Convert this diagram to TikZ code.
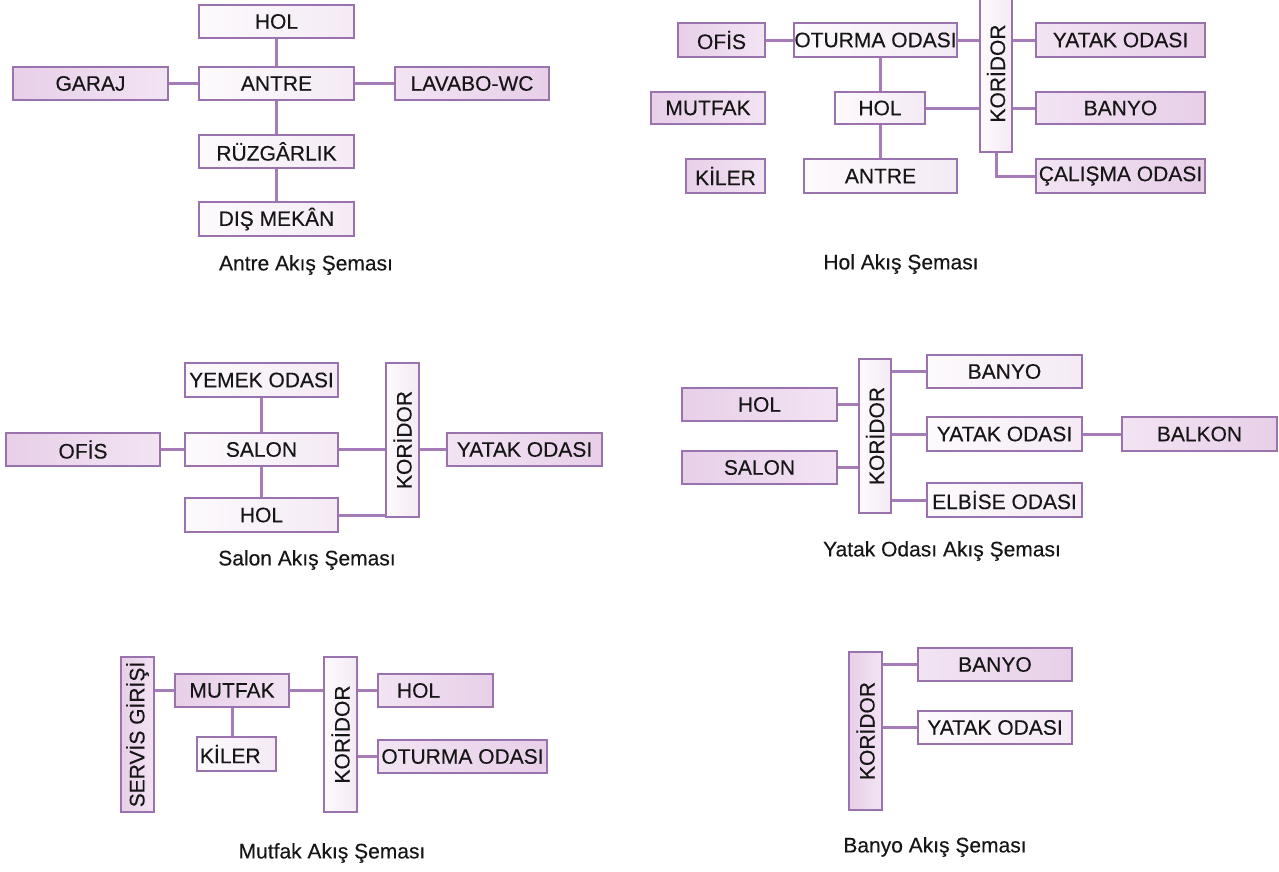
\documentclass[tikz,border=0pt]{standalone}
\usepackage{fontspec}
\setmainfont{Liberation Sans}
\newfontface\rf[FakeBold=0.25]{Liberation Sans}
\definecolor{bd}{HTML}{9A72AD}
\definecolor{ln}{HTML}{A57CB7}
\definecolor{pkL}{HTML}{E7CFE8}
\definecolor{pkR}{HTML}{F2E4F3}
\definecolor{ltL}{HTML}{FDFAFD}
\definecolor{ltR}{HTML}{F4EAF5}
\definecolor{tx}{HTML}{161616}
\tikzset{
  rm/.style={draw=bd, line width=1.6pt, inner sep=0pt, minimum height=33,
    font=\rf\fontsize{21}{25}\selectfont, text=tx},
  pk/.style={rm, left color=pkL, right color=pkR},
  pkr/.style={rm, left color=pkR, right color=pkL},
  lt/.style={rm, left color=ltL, right color=ltR},
  conn/.style={draw=ln, line width=3pt},
  captxt/.style={font=\rf\fontsize{21}{25}\selectfont, text=tx},
  vtext/.style={rotate=90, inner sep=0pt, font=\rf\fontsize{21}{25}\selectfont, text=tx}
}
\begin{document}
\begin{tikzpicture}[x=1pt,y=-1pt]
\useasboundingbox[fill=white] (0,0) rectangle (1279,871);

% ---------- Antre
\node[lt, minimum width=155] (hol1) at (276.5,21.5) {HOL};
\node[pk, minimum width=155] (gar1) at (90.5,83.5) {GARAJ};
\node[lt, minimum width=155] (ant1) at (276.5,83.5) {ANTRE};
\node[pkr, minimum width=154] (lav1) at (472,83.5) {LAVABO-WC};
\node[lt, minimum width=155] (ruz1) at (276.5,151.5) {RÜZGÂRLIK};
\node[lt, minimum width=155, minimum height=34] (dis1) at (276.5,219) {DIŞ MEKÂN};
\node[captxt] (c1) at (306,265) {Antre Akış Şeması};
\draw[conn] (hol1.south) -- (ant1.north);
\draw[conn] (gar1.east) -- (ant1.west);
\draw[conn] (ant1.east) -- (lav1.west);
\draw[conn] (ant1.south) -- (ruz1.north);
\draw[conn] (ruz1.south) -- (dis1.north);

% ---------- Hol
\node[pk, minimum width=87, minimum height=34] (ofi2) at (721.5,40) {OFİS};
\node[lt, minimum width=163, minimum height=34] (otu2) at (875.5,40) {OTURMA ODASI};
\node[lt, minimum width=32, minimum height=157, label={[vtext]center:KORİDOR}] (kor2) at (996,73.5) {};
\node[pkr, minimum width=169, minimum height=34] (yat2) at (1120.5,40) {YATAK ODASI};
\node[pk, minimum width=114, minimum height=32] (mut2) at (708,108) {MUTFAK};
\node[lt, minimum width=90, minimum height=32] (hol2) at (880,108) {HOL};
\node[pkr, minimum width=169, minimum height=32] (ban2) at (1120.5,108) {BANYO};
\node[pk, minimum width=79, minimum height=34] (kil2) at (725.5,176) {KİLER};
\node[lt, minimum width=153, minimum height=34] (ant2) at (880.5,176) {ANTRE};
\node[pkr, minimum width=169, minimum height=34] (cal2) at (1120.5,176) {ÇALIŞMA ODASI};
\node[captxt] (c2) at (901,264) {Hol Akış Şeması};
\draw[conn] (ofi2.east) -- (otu2.west);
\draw[conn] (otu2.east) -- (otu2.east -| kor2.west);
\draw[conn] (yat2.west -| kor2.east) -- (yat2.west);
\draw[conn] (hol2.north) -- (hol2.north |- otu2.south);
\draw[conn] (hol2.east) -- (hol2.east -| kor2.west);
\draw[conn] (ban2.west -| kor2.east) -- (ban2.west);
\draw[conn] (hol2.south) -- (hol2.south |- ant2.north);
\draw[conn] (kor2.south) |- (cal2.west);

% ---------- Salon
\node[lt, minimum width=153, minimum height=34] (yem3) at (261.5,380) {YEMEK ODASI};
\node[pk, minimum width=154] (ofi3) at (83,449.5) {OFİS};
\node[lt, minimum width=153] (sal3) at (261.5,449.5) {SALON};
\node[lt, minimum width=33, minimum height=154, label={[vtext]center:KORİDOR}] (kor3) at (402.5,440) {};
\node[pkr, minimum width=155] (yat3) at (524.5,449.5) {YATAK ODASI};
\node[lt, minimum width=153, minimum height=34] (hol3) at (261.5,515) {HOL};
\node[captxt] (c3) at (307,560) {Salon Akış Şeması};
\draw[conn] (yem3.south) -- (sal3.north);
\draw[conn] (sal3.south) -- (hol3.north);
\draw[conn] (ofi3.east) -- (sal3.west);
\draw[conn] (sal3.east) -- (sal3.east -| kor3.west);
\draw[conn] (yat3.west -| kor3.east) -- (yat3.west);
\draw[conn] (hol3.east) -- (hol3.east -| kor3.west);

% ---------- Yatak Odasi
\node[pk, minimum width=155] (hol4) at (759.5,404.5) {HOL};
\node[pk, minimum width=155] (sal4) at (759.5,467.5) {SALON};
\node[lt, minimum width=32, minimum height=154, label={[vtext]center:KORİDOR}] (kor4) at (875,436) {};
\node[lt, minimum width=155] (ban4) at (1004.5,371.5) {BANYO};
\node[lt, minimum width=155, minimum height=34] (yat4) at (1004.5,434) {YATAK ODASI};
\node[pkr, minimum width=155, minimum height=34] (bal4) at (1199.5,434) {BALKON};
\node[lt, minimum width=155, minimum height=34] (elb4) at (1004.5,500) {ELBİSE ODASI};
\node[captxt] (c4) at (942,551) {Yatak Odası Akış Şeması};
\draw[conn] (hol4.east) -- (hol4.east -| kor4.west);
\draw[conn] (sal4.east) -- (sal4.east -| kor4.west);
\draw[conn] (ban4.west -| kor4.east) -- (ban4.west);
\draw[conn] (yat4.west -| kor4.east) -- (yat4.west);
\draw[conn] (yat4.east) -- (bal4.west);
\draw[conn] (elb4.west -| kor4.east) -- (elb4.west);

% ---------- Mutfak
\node[pk, minimum width=33, minimum height=155, label={[vtext]center:SERVİS GİRİŞİ}] (ser5) at (137.5,734.5) {};
\node[pk, minimum width=114] (mut5) at (232,690.5) {MUTFAK};
\node[lt, minimum width=79, minimum height=34, text width=73, align=left, inner xsep=3] (kil5) at (236.5,754) {KİLER};
\node[lt, minimum width=33, minimum height=155, label={[vtext]center:KORİDOR}] (kor5) at (340.5,734.5) {};
\node[pkr, minimum width=115, text width=77, align=left, inner xsep=19] (hol5) at (435.5,690.5) {HOL};
\node[pkr, minimum width=169] (otu5) at (462.5,756.5) {OTURMA ODASI};
\node[captxt] (c5) at (332,853) {Mutfak Akış Şeması};
\draw[conn] (mut5.west -| ser5.east) -- (mut5.west);
\draw[conn] (mut5.east) -- (mut5.east -| kor5.west);
\draw[conn] (hol5.west -| kor5.east) -- (hol5.west);
\draw[conn] (mut5.south) -- (mut5.south |- kil5.north);
\draw[conn] (otu5.west -| kor5.east) -- (otu5.west);

% ---------- Banyo
\node[pk, minimum width=33, minimum height=158, label={[vtext]center:KORİDOR}] (kor6) at (865.5,731) {};
\node[pkr, minimum width=154] (ban6) at (995,664.5) {BANYO};
\node[lt, minimum width=154] (yat6) at (995,727.5) {YATAK ODASI};
\node[captxt] (c6) at (935,847) {Banyo Akış Şeması};
\draw[conn] (ban6.west -| kor6.east) -- (ban6.west);
\draw[conn] (yat6.west -| kor6.east) -- (yat6.west);
\end{tikzpicture}
\end{document}
